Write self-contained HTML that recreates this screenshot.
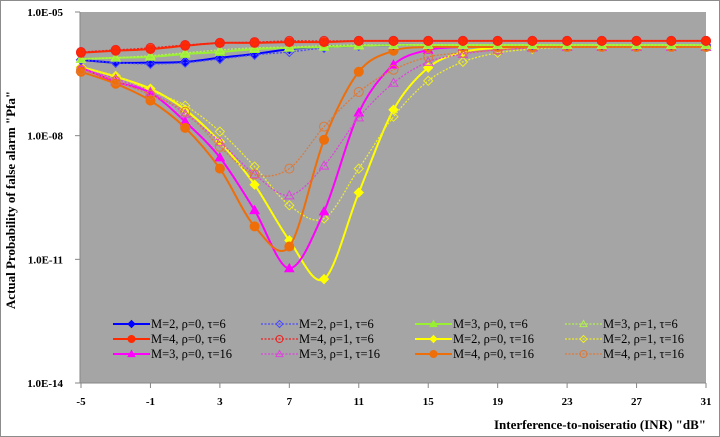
<!DOCTYPE html>
<html><head><meta charset="utf-8">
<style>
html,body{margin:0;padding:0;background:#fff;}
svg{display:block;font-family:"Liberation Serif",serif;}
</style></head>
<body>
<svg id="chart" width="720" height="437" viewBox="0 0 720 437">
<rect x="0.5" y="0.5" width="719" height="436" fill="#fff" stroke="#8c8c8c"/>
<rect x="80" y="12" width="626" height="371" fill="#a5a5a5"/>
<g id="axes"></g>
<g id="series"></g>
<g id="legend"></g>
<text x="15" y="200" transform="rotate(-90 15 200)" text-anchor="middle" font-size="13" font-weight="bold">Actual Probability of false alarm "Pfa"</text>
<text x="706" y="429" text-anchor="end" font-size="13" font-weight="bold">Interference-to-noiseratio (INR) "dB"</text>
</svg>
<script>
const xValues = [-5,-3,-1,1,3,5,7,9,11,13,15,17,19,21,23,25,27,29,31];
const xTicks = [-5,-1,3,7,11,15,19,23,27,31];
const yTicks = [-5,-8,-11,-14];
const yTickLabels = ["1.0E-05","1.0E-08","1.0E-11","1.0E-14"];
// log10(Pfa) per series
const s_m2r0t6  = [-6.16,-6.23,-6.23,-6.21,-6.11,-6.02,-5.90,-5.85,-5.82,-5.80,-5.80,-5.80,-5.80,-5.80,-5.80,-5.80,-5.80,-5.80,-5.80];
const s_m2r1t6  = [-6.16,-6.23,-6.26,-6.23,-6.14,-6.04,-5.97,-5.87,-5.82,-5.80,-5.80,-5.80,-5.80,-5.80,-5.80,-5.80,-5.80,-5.80,-5.80];
const s_m3r0t6  = [-6.14,-6.11,-6.09,-6.02,-5.97,-5.90,-5.87,-5.85,-5.82,-5.80,-5.80,-5.80,-5.80,-5.80,-5.80,-5.80,-5.80,-5.80,-5.80];
const s_m3r1t6  = [-6.14,-6.11,-6.06,-5.99,-5.92,-5.87,-5.85,-5.82,-5.80,-5.80,-5.80,-5.80,-5.80,-5.80,-5.80,-5.80,-5.80,-5.80,-5.80];
const s_m4r0t6  = [-5.99,-5.94,-5.90,-5.82,-5.75,-5.75,-5.73,-5.73,-5.70,-5.70,-5.70,-5.70,-5.70,-5.70,-5.70,-5.70,-5.70,-5.70,-5.70];
const s_m4r1t6  = [-5.97,-5.92,-5.87,-5.80,-5.75,-5.73,-5.70,-5.70,-5.70,-5.70,-5.70,-5.70,-5.70,-5.70,-5.70,-5.70,-5.70,-5.70,-5.70];
const s_m2r0t16 = [-6.33,-6.57,-6.86,-7.37,-8.15,-9.19,-10.54,-11.48,-9.38,-7.37,-6.35,-5.97,-5.87,-5.85,-5.85,-5.85,-5.85,-5.85,-5.85];
const s_m2r1t16 = [-6.35,-6.55,-6.91,-7.27,-7.90,-8.75,-9.69,-10.01,-8.80,-7.54,-6.67,-6.21,-5.99,-5.90,-5.85,-5.85,-5.85,-5.85,-5.85];
const s_m3r0t16 = [-6.35,-6.69,-6.96,-7.66,-8.53,-9.81,-11.22,-9.84,-7.44,-6.28,-5.92,-5.85,-5.85,-5.85,-5.85,-5.85,-5.85,-5.85,-5.85];
const s_m3r1t16 = [-6.38,-6.62,-6.94,-7.47,-8.15,-8.94,-9.45,-8.73,-7.56,-6.72,-6.21,-6.02,-5.92,-5.87,-5.85,-5.85,-5.85,-5.85,-5.85];
const s_m4r0t16 = [-6.45,-6.74,-7.15,-7.81,-8.80,-10.20,-10.69,-8.10,-6.45,-5.94,-5.85,-5.85,-5.85,-5.85,-5.85,-5.85,-5.85,-5.85,-5.85];
const s_m4r1t16 = [-6.40,-6.67,-7.01,-7.42,-8.27,-8.94,-8.80,-7.78,-6.94,-6.40,-6.09,-5.99,-5.92,-5.87,-5.85,-5.85,-5.85,-5.85,-5.85];
const seriesLabels = ["M=2, ρ=0, τ=6","M=2, ρ=1, τ=6","M=3, ρ=0, τ=6","M=3, ρ=1, τ=6","M=4, ρ=0, τ=6","M=4, ρ=1, τ=6","M=2, ρ=0, τ=16","M=2, ρ=1, τ=16","M=3, ρ=0, τ=16","M=3, ρ=1, τ=16","M=4, ρ=0, τ=16","M=4, ρ=1, τ=16"];

const NS="http://www.w3.org/2000/svg";
const X0=80,X1=706,Y0=12,Y1=383;
function xs(v){return X0+1+(v+5)/36*(X1-X0-1);}
function ys(l){return Y0+(-5-l)/9*(Y1-Y0);}
function mk(tag,attrs,parent){const e=document.createElementNS(NS,tag);for(const k in attrs)e.setAttribute(k,attrs[k]);parent.appendChild(e);return e;}

const axes=document.getElementById('axes');
const yl=mk('line',{x1:X0,y1:Y0,x2:X0,y2:Y1,stroke:'#868686'},axes);


const xl=mk('line',{x1:X0,y1:Y1,x2:X1,y2:Y1,stroke:'#868686'},axes);


yTicks.forEach((t,i)=>{
  const y=ys(t);
  mk('line',{x1:X0-5,y1:y,x2:X0,y2:y,stroke:'#868686'},axes);
  const tx=mk('text',{x:X0-17,y:y+4,'text-anchor':'end','font-size':'11','font-weight':'bold'},axes);
  tx.textContent=yTickLabels[i];
  
  
});
xTicks.forEach(t=>{
  const x=xs(t);
  mk('line',{x1:x,y1:Y1,x2:x,y2:Y1+5,stroke:'#868686'},axes);
  const tx=mk('text',{x:x,y:Y1+22,'text-anchor':'middle','font-size':'11','font-weight':'bold'},axes);
  tx.textContent=String(t);
  
  
});

const defs=[
 {d:s_m2r0t6,c:'#0000ff',dash:false,m:'diamond',fill:true,n:'series-m2-r0-t6'},
 {d:s_m2r1t6,c:'#4a4aff',dash:true,m:'diamond',fill:false,n:'series-m2-r1-t6'},
 {d:s_m3r0t6,c:'#99f033',dash:false,m:'triangle',fill:true,n:'series-m3-r0-t6'},
 {d:s_m3r1t6,c:'#b4f050',dash:true,m:'triangle',fill:false,n:'series-m3-r1-t6'},
 {d:s_m4r0t6,c:'#ff2a00',dash:false,m:'circle',fill:true,n:'series-m4-r0-t6'},
 {d:s_m4r1t6,c:'#ee2222',dash:true,m:'circle',fill:false,n:'series-m4-r1-t6'},
 {d:s_m2r0t16,c:'#ffff00',dash:false,m:'diamond',fill:true,n:'series-m2-r0-t16'},
 {d:s_m2r1t16,c:'#eeee22',dash:true,m:'diamond',fill:false,n:'series-m2-r1-t16'},
 {d:s_m3r0t16,c:'#ff00ff',dash:false,m:'triangle',fill:true,n:'series-m3-r0-t16'},
 {d:s_m3r1t16,c:'#dd44dd',dash:true,m:'triangle',fill:false,n:'series-m3-r1-t16'},
 {d:s_m4r0t16,c:'#ee6e0a',dash:false,m:'circle',fill:true,n:'series-m4-r0-t16'},
 {d:s_m4r1t16,c:'#dd7a3a',dash:true,m:'circle',fill:false,n:'series-m4-r1-t16'}
];
function smoothPath(pts){
  let p='M'+pts[0][0]+','+pts[0][1];
  for(let i=0;i<pts.length-1;i++){
    const a=pts[Math.max(i-1,0)],b=pts[i],c=pts[i+1],d=pts[Math.min(i+2,pts.length-1)];
    const t=0.16;
    const c1=[b[0]+(c[0]-a[0])*t,b[1]+(c[1]-a[1])*t];
    const c2=[c[0]-(d[0]-b[0])*t,c[1]-(d[1]-b[1])*t];
    p+=' C'+c1[0].toFixed(1)+','+c1[1].toFixed(1)+' '+c2[0].toFixed(1)+','+c2[1].toFixed(1)+' '+c[0].toFixed(1)+','+c[1].toFixed(1);
  }
  return p;
}
function marker(g,type,x,y,c,fill,r){
  let e;
  if(type==='circle') e=mk('circle',{cx:x,cy:y,r:r},g);
  else if(type==='diamond') e=mk('path',{d:`M${x},${y-r} L${x+r},${y} L${x},${y+r} L${x-r},${y} Z`},g);
  else e=mk('path',{d:`M${x},${y-r} L${x+r},${y+r*0.75} L${x-r},${y+r*0.75} Z`},g);
  e.setAttribute('fill',fill?c:'none');
  e.setAttribute('stroke',c);
  e.setAttribute('stroke-width','1');
  return e;
}
const sg=document.getElementById('series');
const order=[6,7,8,9,10,11,0,1,2,3,4,5];
order.forEach(i=>{
  const s=defs[i];
  const g=mk('g',{},sg);
  
  
  const pts=s.d.map((v,j)=>[xs(xValues[j]),ys(v)]);
  const path=mk('path',{d:smoothPath(pts),fill:'none',stroke:s.c,'stroke-width':s.dash?1.3:2,'stroke-dasharray':s.dash?'2,1.5':'none'},g);
  
  
  pts.forEach(p=>{
    const m=marker(g,s.m,p[0],p[1],s.c,s.fill,4.5);
    
    
  });
});
const lg=document.getElementById('legend');


const colLine=[113,261,415,565],rowY=[324,339,354];
defs.forEach((s,i)=>{
  const col=i%4,row=Math.floor(i/4);
  const x=colLine[col],y=rowY[row];
  const g=mk('g',{},lg);
  
  
  mk('line',{x1:x,y1:y,x2:x+37,y2:y,stroke:s.c,'stroke-width':s.dash?1.3:2,'stroke-dasharray':s.dash?'2,1.5':'none'},g);
  marker(g,s.m,x+18.5,y,s.c,s.fill,3.5);
  const t=mk('text',{x:x+38,y:y+4,'font-size':'12.5'},g);
  t.textContent=seriesLabels[i];
});
</script>
</body></html>
